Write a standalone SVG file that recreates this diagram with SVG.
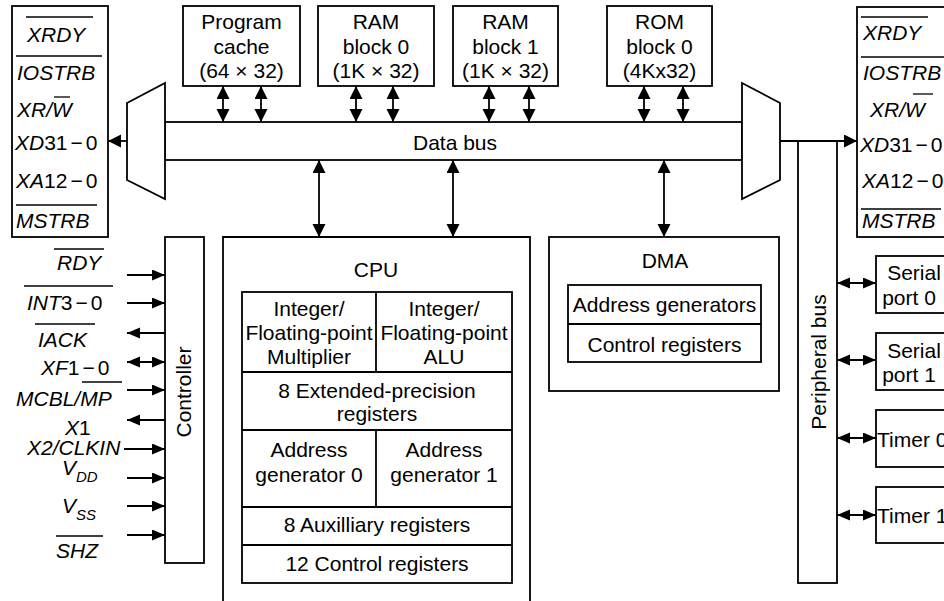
<svg xmlns="http://www.w3.org/2000/svg" width="944" height="601" viewBox="0 0 944 601">
<style>
.b{fill:#fff;stroke:#000;stroke-width:1.8}
.n{fill:none;stroke:#000;stroke-width:1.8}
.ol{stroke:#000;stroke-width:1.3}
.t{font-family:"Liberation Sans",Arial,Helvetica,sans-serif;font-size:21px;fill:#000}
.c{text-anchor:middle}
.i{font-style:italic}
.s{font-size:15px}
.a2{marker-start:url(#ah);marker-end:url(#ah)}
.a1{marker-end:url(#ah)}
.p2{marker-start:url(#as);marker-end:url(#as)}
.p1{marker-end:url(#as)}
</style>
<defs>
<marker id="ah" markerUnits="userSpaceOnUse" markerWidth="14" markerHeight="14" refX="13" refY="6.5" orient="auto-start-reverse"><path d="M0,0 L13,6.5 L0,13 z" fill="#000"/></marker>
<marker id="as" markerUnits="userSpaceOnUse" markerWidth="14" markerHeight="12" refX="13" refY="5.5" orient="auto-start-reverse"><path d="M0,0 L13,5.5 L0,11 z" fill="#000"/></marker>
</defs>
<rect width="944" height="601" fill="#fff"/>

<g id="left-ext">
<rect class="b" x="12" y="6" width="96" height="231"/>
<line class="ol" x1="26" y1="17" x2="93" y2="17"/>
<text class="t i" x="27" y="42">XRDY</text>
<line class="ol" x1="16" y1="56" x2="102" y2="56"/>
<text class="t i" x="17" y="80">IOSTRB</text>
<line class="ol" x1="54" y1="97" x2="70" y2="97"/>
<text class="t i" x="17" y="117">XR/W</text>
<text class="t" x="15" y="150"><tspan class="i">XD</tspan>31<tspan dx="3">−</tspan><tspan dx="3">0</tspan></text>
<text class="t" x="16" y="188"><tspan class="i">XA</tspan>12<tspan dx="3">−</tspan><tspan dx="3">0</tspan></text>
<line class="ol" x1="16" y1="205" x2="97" y2="205"/>
<text class="t i" x="16" y="228">MSTRB</text>
</g>

<g id="right-ext">
<rect class="b" x="857" y="7" width="110" height="230"/>
<line class="ol" x1="861" y1="17" x2="928" y2="17"/>
<text class="t i" x="863" y="40">XRDY</text>
<line class="ol" x1="861" y1="57" x2="944" y2="57"/>
<text class="t i" x="863" y="80">IOSTRB</text>
<line class="ol" x1="913" y1="94" x2="933" y2="94"/>
<text class="t i" x="870" y="117">XR/W</text>
<text class="t" x="860" y="152"><tspan class="i">XD</tspan>31<tspan dx="3">−</tspan><tspan dx="3">0</tspan></text>
<text class="t" x="862" y="188"><tspan class="i">XA</tspan>12<tspan dx="3">−</tspan><tspan dx="3">0</tspan></text>
<line class="ol" x1="861" y1="209" x2="941" y2="209"/>
<text class="t i" x="862" y="228">MSTRB</text>
</g>

<g id="program-cache">
<rect class="b" x="183" y="6" width="117" height="80"/>
<text class="t c" x="241.5" y="29">Program</text>
<text class="t c" x="241.5" y="54">cache</text>
<text class="t c" x="241.5" y="78">(64 × 32)</text>
</g>
<g id="ram0">
<rect class="b" x="318" y="6" width="116" height="80"/>
<text class="t c" x="376" y="29">RAM</text>
<text class="t c" x="376" y="54">block 0</text>
<text class="t c" x="376" y="78">(1K × 32)</text>
</g>
<g id="ram1">
<rect class="b" x="453" y="6" width="105" height="80"/>
<text class="t c" x="505.5" y="29">RAM</text>
<text class="t c" x="505.5" y="54">block 1</text>
<text class="t c" x="505.5" y="78">(1K × 32)</text>
</g>
<g id="rom0">
<rect class="b" x="607" y="6" width="105" height="80"/>
<text class="t c" x="659.5" y="29">ROM</text>
<text class="t c" x="659.5" y="54">block 0</text>
<text class="t c" x="659.5" y="78">(4Kx32)</text>
</g>

<g id="data-bus">
<rect class="b" x="165" y="122" width="577" height="38"/>
<text class="t c" x="455" y="150">Data bus</text>
</g>
<g id="mux-left">
<polygon class="b" points="127,103 165,83 165,199 127,180"/>
</g>
<g id="mux-right">
<polygon class="b" points="742,83 780,103 780,180 742,199"/>
</g>

<g id="controller">
<rect class="b" x="165" y="237" width="39" height="326"/>
<text class="t c" transform="translate(191,392) rotate(-90)" x="0" y="0">Controller</text>
</g>

<g id="cpu">
<path class="n" d="M223,610 V237 H530 V610"/>
<text class="t c" x="376" y="277">CPU</text>
<rect class="n" x="242" y="292" width="270" height="291"/>
<line class="n" x1="242" y1="372" x2="512" y2="372"/>
<line class="n" x1="242" y1="430" x2="512" y2="430"/>
<line class="n" x1="242" y1="507" x2="512" y2="507"/>
<line class="n" x1="242" y1="545" x2="512" y2="545"/>
<line class="n" x1="376" y1="292" x2="376" y2="372"/>
<line class="n" x1="376" y1="430" x2="376" y2="507"/>
<text class="t c" x="309" y="316">Integer/</text>
<text class="t c" x="309" y="340">Floating-point</text>
<text class="t c" x="309" y="364">Multiplier</text>
<text class="t c" x="444" y="316">Integer/</text>
<text class="t c" x="444" y="340">Floating-point</text>
<text class="t c" x="444" y="364">ALU</text>
<text class="t c" x="377" y="398">8 Extended-precision</text>
<text class="t c" x="377" y="421">registers</text>
<text class="t c" x="309" y="457">Address</text>
<text class="t c" x="309" y="482">generator 0</text>
<text class="t c" x="444" y="457">Address</text>
<text class="t c" x="444" y="482">generator 1</text>
<text class="t c" x="377" y="532">8 Auxilliary registers</text>
<text class="t c" x="377" y="571">12 Control registers</text>
</g>

<g id="dma">
<rect class="b" x="549" y="237" width="230" height="154"/>
<text class="t c" x="665" y="268">DMA</text>
<rect class="n" x="568" y="285" width="193" height="77"/>
<line class="n" x1="568" y1="324" x2="761" y2="324"/>
<text class="t c" x="664.5" y="312">Address generators</text>
<text class="t c" x="664.5" y="352">Control registers</text>
</g>

<g id="peripheral-bus">
<rect class="b" x="798" y="141" width="39" height="442"/>
<text class="t c" transform="translate(826,362) rotate(-90)" x="0" y="0">Peripheral bus</text>
</g>

<g id="serial0">
<rect class="b" x="876" y="256" width="90" height="57"/>
<text class="t c" x="914" y="280">Serial</text>
<text class="t c" x="909" y="305">port 0</text>
</g>
<g id="serial1">
<rect class="b" x="876" y="333" width="90" height="57"/>
<text class="t c" x="914" y="358">Serial</text>
<text class="t c" x="909" y="382">port 1</text>
</g>
<g id="timer0">
<rect class="b" x="876" y="410" width="90" height="57"/>
<text class="t" x="877" y="447">Timer 0</text>
</g>
<g id="timer1">
<rect class="b" x="876" y="487" width="90" height="56"/>
<text class="t" x="877" y="523">Timer 1</text>
</g>

<g id="pins">
<line class="ol" x1="54" y1="249" x2="104" y2="249"/>
<text class="t i" x="57" y="270">RDY</text>
<line class="ol" x1="24" y1="286" x2="113" y2="286"/>
<text class="t" x="27" y="310"><tspan class="i">INT</tspan>3<tspan dx="3">−</tspan><tspan dx="3">0</tspan></text>
<line class="ol" x1="35" y1="324" x2="95" y2="324"/>
<text class="t i" x="38" y="347">IACK</text>
<text class="t" x="41" y="375"><tspan class="i">XF</tspan>1<tspan dx="3">−</tspan><tspan dx="3">0</tspan></text>
<line class="ol" x1="82" y1="382" x2="122" y2="382"/>
<text class="t i" x="16" y="406">MCBL/MP</text>
<text class="t" x="65" y="435"><tspan class="i">X</tspan>1</text>
<text class="t i" x="27" y="455">X2/CLKIN</text>
<text class="t i" x="62" y="475">V<tspan class="s" dy="7">DD</tspan></text>
<text class="t i" x="62" y="513">V<tspan class="s" dy="7">SS</tspan></text>
<line class="ol" x1="56" y1="536" x2="103" y2="536"/>
<text class="t i" x="56" y="558">SHZ</text>
</g>

<g id="connectors">
<line class="n a2" x1="223" y1="86" x2="223" y2="122"/>
<line class="n a2" x1="261" y1="86" x2="261" y2="122"/>
<line class="n a2" x1="356" y1="86" x2="356" y2="122"/>
<line class="n a2" x1="393" y1="86" x2="393" y2="122"/>
<line class="n a2" x1="489" y1="86" x2="489" y2="122"/>
<line class="n a2" x1="529" y1="86" x2="529" y2="122"/>
<line class="n a2" x1="644" y1="86" x2="644" y2="122"/>
<line class="n a2" x1="683" y1="86" x2="683" y2="122"/>
<line class="n a2" x1="319" y1="160" x2="319" y2="237"/>
<line class="n a2" x1="453" y1="160" x2="453" y2="237"/>
<line class="n a2" x1="664" y1="160" x2="664" y2="237"/>
<line class="n a1" x1="127" y1="141" x2="108" y2="141"/>
<line class="n a1" x1="780" y1="141" x2="857" y2="141"/>
<line class="n p2" x1="837" y1="283" x2="876" y2="283"/>
<line class="n p2" x1="837" y1="360" x2="876" y2="360"/>
<line class="n p2" x1="837" y1="438" x2="876" y2="438"/>
<line class="n p2" x1="837" y1="515" x2="876" y2="515"/>
<line class="n p1" x1="127" y1="275" x2="165" y2="275"/>
<line class="n p1" x1="127" y1="303" x2="165" y2="303"/>
<line class="n p1" x1="165" y1="333" x2="127" y2="333"/>
<line class="n p2" x1="127" y1="362" x2="165" y2="362"/>
<line class="n p1" x1="127" y1="390" x2="165" y2="390"/>
<line class="n p1" x1="165" y1="420" x2="127" y2="420"/>
<line class="n p1" x1="124" y1="449" x2="165" y2="449"/>
<line class="n p1" x1="127" y1="478" x2="165" y2="478"/>
<line class="n p1" x1="127" y1="506" x2="165" y2="506"/>
<line class="n p1" x1="127" y1="535" x2="165" y2="535"/>
</g>
</svg>
